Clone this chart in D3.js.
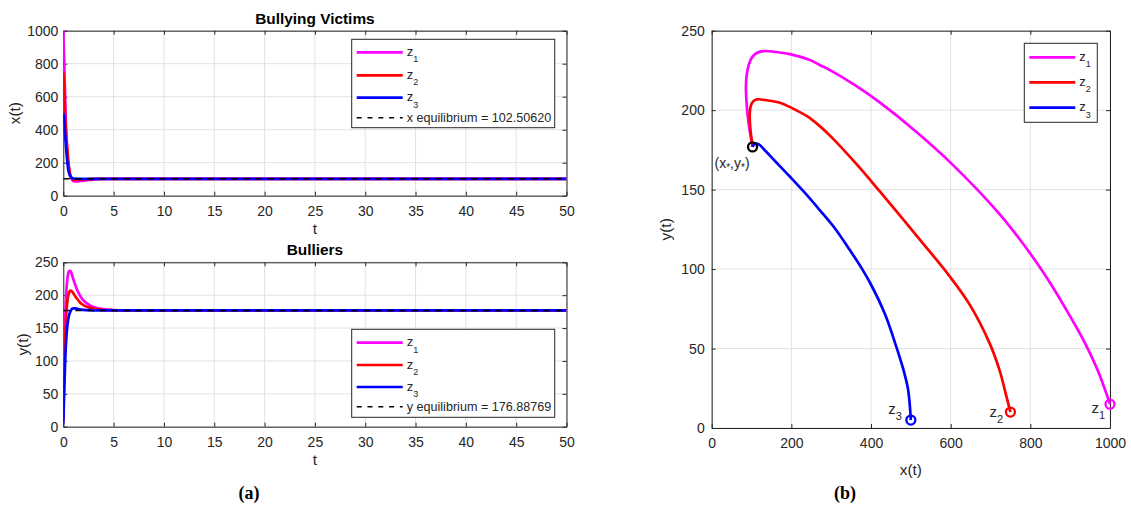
<!DOCTYPE html>
<html>
<head>
<meta charset="utf-8">
<title>Bullying model</title>
<style>
body { margin: 0; background: #fff; }
text { font-family: "Liberation Sans", Arial, Helvetica, sans-serif; fill: #262626; }
.grid { stroke: #e2e2e2; stroke-width: 1; }
.axis path, .axis line { stroke: #262626; stroke-width: 1; }
.axis text { font-size: 14px; fill: #262626; font-family: "Liberation Sans", Arial, sans-serif; }
.title { font-size: 15.4px; font-weight: bold; fill: #000; }
.label { font-size: 15.4px; }
.panel { font-family: "Liberation Serif", "Times New Roman", serif; font-size: 18px; font-weight: bold; fill: #000; }
</style>
</head>
<body>
<svg width="1131" height="507"></svg>
<script src="https://d3js.org/d3.v7.min.js"></script>
<script>

// time grid for the simulated trajectories
var tVals = [0, 0.1, 0.2, 0.3, 0.4, 0.5, 0.6, 0.7, 0.8, 0.9, 1.0, 1.2, 1.4, 1.6, 1.8, 2.0, 2.5, 3.0, 3.5, 4.0, 5, 6, 8, 10, 50];

// x(t) - bullying victims
var xZ1 = [1000, 790, 560, 360, 260, 190, 140, 118, 107, 95, 89, 86, 87, 88, 89.5, 91, 95, 98, 100, 101.3, 102.2, 102.4, 102.5, 102.5, 102.5];
var xZ2 = [750, 636, 455, 363, 290, 210, 160, 125, 110, 101, 97, 96, 96.5, 97.5, 98.5, 99, 100.5, 101.5, 102, 102.3, 102.5, 102.5, 102.5, 102.5, 102.5];
var xZ3 = [500, 455, 355, 270, 205, 155, 133, 118, 110, 106, 104, 103, 102.7, 102.5, 102.5, 102.5, 102.5, 102.5, 102.5, 102.5, 102.5, 102.5, 102.5, 102.5, 102.5];

// y(t) - bulliers
var yZ1 = [15, 110, 170, 205, 224, 234, 237, 237, 234, 229, 224, 215, 207, 201, 196, 192, 186, 182, 180, 178.5, 177.5, 177, 176.9, 176.9, 176.9];
var yZ2 = [10, 85, 140, 172, 190, 200, 205, 207, 206.5, 205, 203, 198, 194, 190, 187, 185, 181.5, 179.5, 178.3, 177.6, 177.1, 176.95, 176.9, 176.9, 176.9];
var yZ3 = [5, 60, 105, 135, 153, 164, 171, 175, 178, 179.5, 180, 180, 179.3, 178.6, 178, 177.6, 177.2, 177, 176.9, 176.9, 176.9, 176.9, 176.9, 176.9, 176.9];

// phase plane trajectories (x, y), from the starting point to the equilibrium
var phX1 = [1000, 969.9, 937.2, 899.6, 849.4, 799.2, 723.8, 598.3, 510.4, 422.6, 359.8, 297, 272, 246.8, 196.6, 161.2, 133.8, 115, 102, 93, 87.5, 86, 87.5, 91, 96, 102.5];
var phY1 = [15, 35.8, 53.4, 70.4, 91.4, 110, 134.3, 167.3, 187.1, 204.7, 215.7, 225.2, 228.3, 231.5, 235.3, 236.6, 237.2, 236.3, 233.5, 228.5, 221.5, 214, 205, 195, 186, 176.9];
var phX2 = [750, 736.4, 723.8, 698.7, 648.5, 598.3, 523, 422.6, 364.8, 297, 266.9, 239.3, 204.1, 171.5, 141.3, 113.7, 104, 98, 95.5, 96, 98, 100.5, 102.5];
var phY2 = [10, 23.4, 35.5, 52.8, 77.3, 95.2, 118.4, 148.7, 165.7, 184, 190.9, 196.2, 201, 204.7, 206.1, 206.8, 205.5, 202.5, 198, 192, 186, 181, 176.9];
var phX3 = [500, 493, 480.4, 460.3, 435.2, 397.5, 372.3, 347.2, 309.6, 271.9, 234.2, 196.6, 158.9, 133.8, 118.8, 108.7, 102.5];
var phY3 = [5, 24.3, 37.5, 53.6, 71.6, 91.4, 102.2, 111.8, 125.5, 136.9, 147.9, 158.1, 168, 174.6, 178.4, 178.8, 176.9];

var xEq = 102.50620, yEq = 176.88769;

var seriesNames = ["1", "2", "3"];
var seriesColors = ["#ff00ff", "#ff0000", "#0000ff"];

var tTicks = [0, 5, 10, 15, 20, 25, 30, 35, 40, 45, 50];
var xtTicks = [0, 200, 400, 600, 800, 1000];
var ytTicks = [0, 50, 100, 150, 200, 250];

var svg = d3.select("svg");
svg.append("rect").attr("width", 1131).attr("height", 507).attr("fill", "#fff");

function makePanel(id, box, xDom, yDom, xTicks, yTicks, yPad) {
  var x = d3.scaleLinear().domain(xDom).range([box.left, box.right]);
  var y = d3.scaleLinear().domain(yDom).range([box.bottom, box.top]);
  var g = svg.append("g");
  var fmt = d3.format("d");

  g.append("clipPath").attr("id", id)
    .append("rect")
      .attr("x", box.left).attr("y", box.top)
      .attr("width", box.right - box.left).attr("height", box.bottom - box.top);

  g.selectAll(".vgrid").data(xTicks).enter().append("line")
      .attr("class", "grid")
      .attr("x1", function(d) { return x(d); }).attr("x2", function(d) { return x(d); })
      .attr("y1", box.top).attr("y2", box.bottom);
  g.selectAll(".hgrid").data(yTicks).enter().append("line")
      .attr("class", "grid")
      .attr("y1", function(d) { return y(d); }).attr("y2", function(d) { return y(d); })
      .attr("x1", box.left).attr("x2", box.right);

  g.append("g").attr("class", "axis")
      .attr("transform", "translate(0," + box.bottom + ")")
      .call(d3.axisBottom(x).tickValues(xTicks).tickFormat(fmt).tickSizeInner(-4).tickSizeOuter(0).tickPadding(10));
  g.append("g").attr("class", "axis")
      .attr("transform", "translate(0," + box.top + ")")
      .call(d3.axisTop(x).tickValues(xTicks).tickSizeInner(-4).tickSizeOuter(0).tickFormat(""));
  g.append("g").attr("class", "axis")
      .attr("transform", "translate(" + box.left + ",0)")
      .call(d3.axisLeft(y).tickValues(yTicks).tickFormat(fmt).tickSizeInner(-4).tickSizeOuter(0).tickPadding(yPad));
  g.append("g").attr("class", "axis")
      .attr("transform", "translate(" + box.right + ",0)")
      .call(d3.axisRight(y).tickValues(yTicks).tickSizeInner(-4).tickSizeOuter(0).tickFormat(""));

  var data = g.append("g").attr("clip-path", "url(#" + id + ")");
  return {x: x, y: y, g: g, data: data};
}

// "z" with a subscript
function zText(parent, px, py, sub, size, subSize, subDy) {
  var t = parent.append("text").attr("x", px).attr("y", py).style("font-size", size + "px");
  t.append("tspan").text("z");
  t.append("tspan").attr("dy", subDy).style("font-size", subSize + "px").text(sub);
  return t;
}

function legend(box, rows, items) {
  var g = svg.append("g");
  g.append("rect")
      .attr("x", box.left).attr("y", box.top)
      .attr("width", box.width).attr("height", box.height)
      .attr("fill", "#fff").attr("stroke", "#262626").attr("stroke-width", 1);
  items.forEach(function(it, i) {
    g.append("line")
        .attr("x1", box.left + 5).attr("x2", box.left + 51)
        .attr("y1", rows[i]).attr("y2", rows[i])
        .attr("stroke", it.color)
        .attr("stroke-width", it.dash ? 1.5 : 2.7)
        .attr("stroke-dasharray", it.dash ? "5,5.8" : null);
    if (it.sub) {
      zText(g, box.left + 55, rows[i] + 3.5, it.sub, 13, 9, 6.5);
    } else {
      g.append("text").attr("x", box.left + 55).attr("y", rows[i] + 4.5)
          .style("font-size", "12.6px").text(it.label);
    }
  });
}

var line = d3.line().curve(d3.curveMonotoneX);

function timePanel(id, box, yDom, yTicks, series, eq, title, ylab, ylabX, legBox, legRows, eqLabel) {
  var p = makePanel(id, box, [0, 50], yDom, tTicks, yTicks, 5);
  series.forEach(function(vals, i) {
    p.data.append("path")
        .datum(tVals.map(function(t, j) { return [p.x(t), p.y(vals[j])]; }))
        .attr("d", line)
        .attr("fill", "none")
        .attr("stroke", seriesColors[i])
        .attr("stroke-width", 2.7);
  });
  p.data.append("line")
      .attr("x1", p.x(0)).attr("x2", p.x(50))
      .attr("y1", p.y(eq)).attr("y2", p.y(eq))
      .attr("stroke", "#000").attr("stroke-width", 1.5)
      .attr("stroke-dasharray", "6.5,5.5");

  svg.append("text").attr("class", "title")
      .attr("x", (box.left + box.right) / 2).attr("y", box.top - 7)
      .attr("text-anchor", "middle").text(title);
  svg.append("text").attr("class", "label")
      .attr("x", (box.left + box.right) / 2).attr("y", box.bottom + 38)
      .attr("text-anchor", "middle").text("t");
  svg.append("text").attr("class", "label")
      .attr("transform", "translate(" + ylabX + "," + (box.top + box.bottom) / 2 + ") rotate(-90)")
      .attr("text-anchor", "middle").text(ylab);

  var items = seriesNames.map(function(n, i) { return {color: seriesColors[i], sub: n}; });
  items.push({color: "#000", dash: true, label: eqLabel});
  legend(legBox, legRows, items);
}

// (a) top: bullying victims
timePanel("clipA1", {left: 63.3, right: 566.5, top: 30.7, bottom: 195.7},
  [0, 1000], [0, 200, 400, 600, 800, 1000], [xZ1, xZ2, xZ3], xEq,
  "Bullying Victims", "x(t)", 20,
  {left: 351.7, top: 39.3, width: 203, height: 88.4}, [52.3, 75.3, 97.7, 117.7],
  "x equilibrium = " + xEq.toFixed(5));

// (a) bottom: bulliers
timePanel("clipA2", {left: 63.3, right: 566.5, top: 262.3, bottom: 426.7},
  [0, 250], [0, 50, 100, 150, 200, 250], [yZ1, yZ2, yZ3], yEq,
  "Bulliers", "y(t)", 28,
  {left: 351.7, top: 329.3, width: 203, height: 88}, [342.7, 365, 387, 406.7],
  "y equilibrium = " + yEq.toFixed(5));

// (b) phase plane
var boxB = {left: 711.7, right: 1110, top: 30.7, bottom: 428};
var pb = makePanel("clipB", boxB, [0, 1000], [0, 250], xtTicks, ytTicks, 7);
var phLine = d3.line().curve(d3.curveCatmullRom.alpha(0.5));
var phases = [[phX1, phY1], [phX2, phY2], [phX3, phY3]];

phases.forEach(function(ph, i) {
  pb.g.append("path")
      .datum(ph[0].map(function(v, j) { return [pb.x(v), pb.y(ph[1][j])]; }))
      .attr("d", phLine)
      .attr("fill", "none")
      .attr("stroke", seriesColors[i])
      .attr("stroke-width", 2.7);
});
phases.forEach(function(ph, i) {
  pb.g.append("circle")
      .attr("cx", pb.x(ph[0][0])).attr("cy", pb.y(ph[1][0])).attr("r", 4.5)
      .attr("fill", "none").attr("stroke", seriesColors[i]).attr("stroke-width", 2.3);
});
pb.g.append("circle")
    .attr("cx", pb.x(xEq)).attr("cy", pb.y(yEq)).attr("r", 4.5)
    .attr("fill", "none").attr("stroke", "#000").attr("stroke-width", 2.3);

// start labels, placed left of each starting point
var startOffsets = [[-18.5, 9], [-21, 4.5], [-22.5, -6]];
phases.forEach(function(ph, i) {
  zText(pb.g, pb.x(ph[0][0]) + startOffsets[i][0], pb.y(ph[1][0]) + startOffsets[i][1],
        seriesNames[i], 15, 11, 6);
});

var eqLab = pb.g.append("text")
    .attr("x", pb.x(xEq) - 38).attr("y", pb.y(yEq) + 21)
    .style("font-size", "14px");
eqLab.append("tspan").text("(x");
eqLab.append("tspan").attr("dy", 3).style("font-size", "10px").text("*");
eqLab.append("tspan").attr("dy", -3).text(",y");
eqLab.append("tspan").attr("dy", 3).style("font-size", "10px").text("*");
eqLab.append("tspan").attr("dy", -3).text(")");

svg.append("text").attr("class", "label")
    .attr("x", (boxB.left + boxB.right) / 2).attr("y", 474.5)
    .attr("text-anchor", "middle").text("x(t)");
svg.append("text").attr("class", "label")
    .attr("transform", "translate(671," + (boxB.top + boxB.bottom) / 2 + ") rotate(-90)")
    .attr("text-anchor", "middle").text("y(t)");

legend({left: 1024.3, top: 43.3, width: 73, height: 79}, [57.3, 82.3, 107.7],
  seriesNames.map(function(n, i) { return {color: seriesColors[i], sub: n}; }));

svg.append("text").attr("class", "panel").attr("x", 249).attr("y", 499)
    .attr("text-anchor", "middle").text("(a)");
svg.append("text").attr("class", "panel").attr("x", 845).attr("y", 499)
    .attr("text-anchor", "middle").text("(b)");

</script>
</body>
</html>
